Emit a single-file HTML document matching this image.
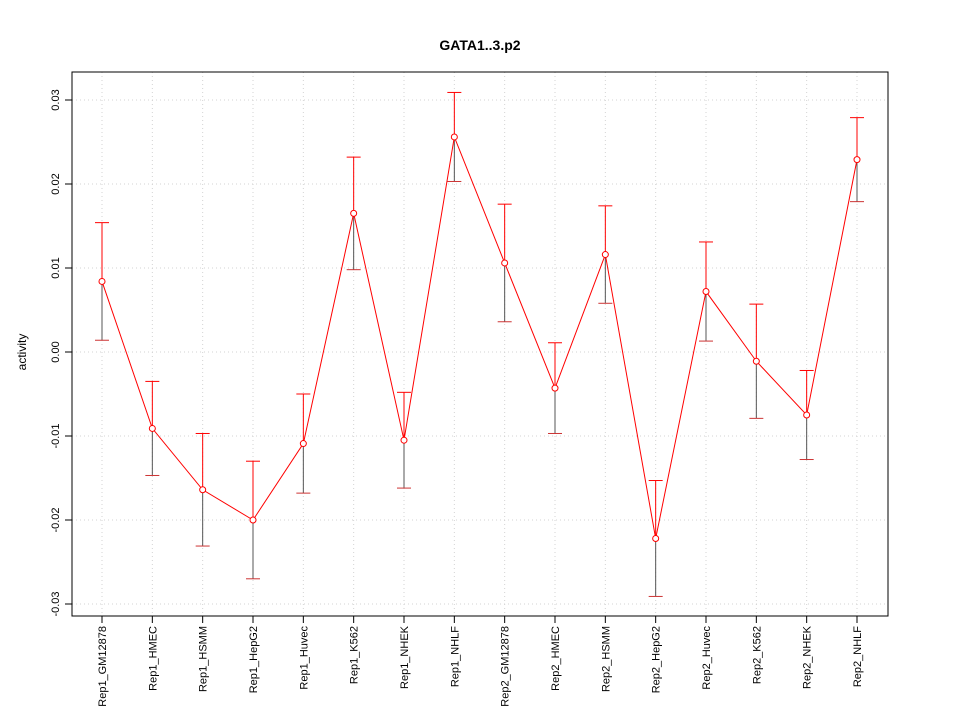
<!DOCTYPE html>
<html><head><meta charset="utf-8"><style>
body{margin:0;background:#fff}
svg{display:block;font-family:"Liberation Sans",sans-serif}
</style></head><body>
<svg id="chart" width="960" height="720">
<rect width="960" height="720" fill="#fff"/>
<text x="480" y="50" text-anchor="middle" font-size="14" font-weight="bold">GATA1..3.p2</text>
<text transform="translate(26,352) rotate(-90)" text-anchor="middle" font-size="12">activity</text>
<g id="grid"></g><g id="axes"></g><g id="marks"></g>
</svg>
<script>
const categories=["Rep1_GM12878","Rep1_HMEC","Rep1_HSMM","Rep1_HepG2","Rep1_Huvec","Rep1_K562","Rep1_NHEK","Rep1_NHLF","Rep2_GM12878","Rep2_HMEC","Rep2_HSMM","Rep2_HepG2","Rep2_Huvec","Rep2_K562","Rep2_NHEK","Rep2_NHLF"];
const values=[0.0084,-0.0091,-0.0164,-0.0200,-0.0109,0.0165,-0.0105,0.0256,0.0106,-0.0043,0.0116,-0.0222,0.0072,-0.0011,-0.0075,0.0229];
const errors=[0.0070,0.0056,0.0067,0.0070,0.0059,0.0067,0.0057,0.0053,0.0070,0.0054,0.0058,0.0069,0.0059,0.0068,0.0053,0.0050];
const yTicks=[-0.03,-0.02,-0.01,0.00,0.01,0.02,0.03];
const yTickLabels=["-0.03","-0.02","-0.01","0.00","0.01","0.02","0.03"];
const NS="http://www.w3.org/2000/svg";
const L=72,R=888,T=72,B=616;
const x=i=>102+i*(857-102)/(categories.length-1);
const y=v=>352-v*8400;
function mk(parent,tag,attrs){const e=document.createElementNS(NS,tag);for(const k in attrs)e.setAttribute(k,attrs[k]);document.getElementById(parent).appendChild(e);return e;}
categories.forEach((c,i)=>{
 const g=mk("grid","line",{x1:x(i),x2:x(i),y1:T,y2:B,stroke:"#d3d3d3","stroke-dasharray":"1,3"});
 
 
 const t=mk("axes","line",{x1:x(i),x2:x(i),y1:B,y2:B+7,stroke:"#000"});
 
 
 const l=mk("axes","text",{transform:`translate(${x(i)+4},${B+10}) rotate(-90)`,"text-anchor":"end","font-size":"11"});
 l.textContent=c;
 
 
});
yTicks.forEach((v,i)=>{
 const g=mk("grid","line",{x1:L,x2:R,y1:y(v),y2:y(v),stroke:"#d3d3d3","stroke-dasharray":"1,3"});
 
 
 const t=mk("axes","line",{x1:L-7,x2:L,y1:y(v),y2:y(v),stroke:"#000"});
 
 
 const l=mk("axes","text",{transform:`translate(${L-13},${y(v)}) rotate(-90)`,"text-anchor":"middle","font-size":"11"});
 l.textContent=yTickLabels[i];
 
 
});
const frame=mk("axes","rect",{x:L,y:T,width:R-L,height:B-T,fill:"none",stroke:"#000"});


values.forEach((v,i)=>{
 const hi=y(v+errors[i]),lo=y(v-errors[i]);
 const e1=mk("marks","line",{x1:x(i),x2:x(i),y1:hi,y2:y(v),stroke:"#f00"});
 
 
 const e2=mk("marks","line",{x1:x(i),x2:x(i),y1:y(v),y2:lo,stroke:"#555"});
 
 
 const c1=mk("marks","line",{x1:x(i)-7,x2:x(i)+7,y1:hi,y2:hi,stroke:"#f00"});
 
 
 const c2=mk("marks","line",{x1:x(i)-7,x2:x(i)+7,y1:lo,y2:lo,stroke:"#c33"});
 
 
});
const line=mk("marks","polyline",{points:values.map((v,i)=>x(i)+","+y(v)).join(" "),fill:"none",stroke:"#f00"});


values.forEach((v,i)=>{
 const p=mk("marks","circle",{cx:x(i),cy:y(v),r:3,fill:"#fff",stroke:"#f00"});
 
 
});
</script>
</body></html>
